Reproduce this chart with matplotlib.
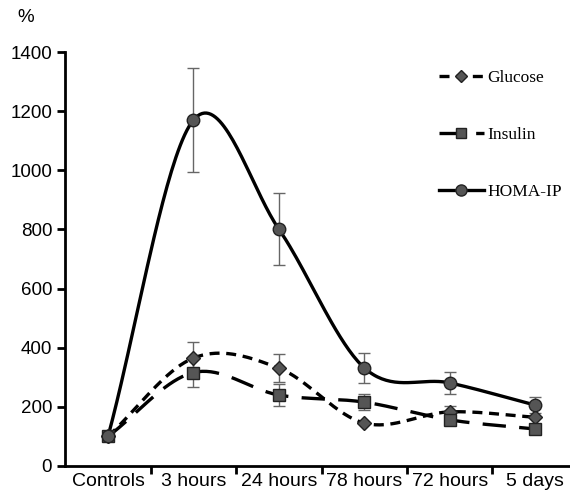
import numpy as np
import matplotlib.pyplot as plt
from matplotlib.lines import Line2D

# data
categories = ["Controls", "3 hours", "24 hours", "78 hours", "72 hours", "5 days"]
glucose = [100, 365, 331, 145, 183, 165]
glucose_err = [0, 55, 48, 0, 20, 0]
insulin = [100, 316, 240, 216, 156, 125]
insulin_err = [0, 49, 37, 27, 0, 0]
homa = [100, 1170, 801, 332, 281, 206]
homa_err = [0, 176, 121, 50, 37, 27]


def smooth(xs, ys, n=40):
    # catmull-rom spline through the points (Excel-like smoothed line)
    xs = np.asarray(xs, float)
    ys = np.asarray(ys, float)
    px = np.concatenate([[2 * xs[0] - xs[1]], xs, [2 * xs[-1] - xs[-2]]])
    py = np.concatenate([[2 * ys[0] - ys[1]], ys, [2 * ys[-1] - ys[-2]]])
    outx, outy = [], []
    t = np.linspace(0, 1, n)
    for i in range(1, len(px) - 2):
        for p, out in ((px, outx), (py, outy)):
            p0, p1, p2, p3 = p[i - 1], p[i], p[i + 1], p[i + 2]
            out.extend(0.5 * (2 * p1 + (-p0 + p2) * t
                              + (2 * p0 - 5 * p1 + 4 * p2 - p3) * t ** 2
                              + (-p0 + 3 * p1 - 3 * p2 + p3) * t ** 3))
    return np.array(outx), np.array(outy)


fig = plt.figure(figsize=(5.7, 4.93), dpi=100)
ax = fig.add_axes([0.1146, 0.0548, 0.899, 0.8397])

x = np.arange(len(categories))
series = [
    (glucose, glucose_err, (0, (3, 2)), "D", 7, "Glucose"),
    (insulin, insulin_err, (0, (7, 4)), "s", 8, "Insulin"),
    (homa, homa_err, "-", "o", 9, "HOMA-IP"),
]
handles = []
for vals, err, ls, mk, ms, lab in series:
    sx, sy = smooth(x, vals)
    ax.plot(sx, sy, color="black", lw=2.4, linestyle=ls, zorder=2)
    ax.errorbar(x, vals, yerr=err, fmt="none", ecolor="#666666", elinewidth=1,
                capsize=4, capthick=1, zorder=3)
    ax.plot(x, vals, linestyle="none", marker=mk, ms=ms, mfc="#555555",
            mec="#222222", mew=1, zorder=4)
    handles.append(Line2D([0], [0], color="black", lw=2.4, linestyle=ls,
                          marker=mk, ms=ms - 1, mfc="#555555", mec="#222222"))

ax.set_xlim(-0.5, 5.5)
ax.set_ylim(0, 1400)
ax.set_yticks(range(0, 1401, 200))
ax.set_xticks(x)
ax.set_xticklabels(categories, fontsize=14, family="Liberation Sans")
ax.set_xticks(x[:-1] + 0.5, minor=True)
ax.tick_params(axis="x", which="major", length=0, pad=5)
ax.tick_params(axis="x", which="minor", length=6, width=2, direction="out")
ax.tick_params(axis="y", length=6, width=2, direction="out", labelsize=13.5)
for t in ax.get_yticklabels():
    t.set_family("Liberation Sans")
ax.spines["top"].set_visible(False)
ax.spines["right"].set_visible(False)
ax.spines["left"].set_linewidth(2)
ax.spines["bottom"].set_linewidth(2)

fig.text(0.03, 0.955, "%", fontsize=13.5, family="Liberation Sans")

ax.legend(handles, ["Glucose", "Insulin", "HOMA-IP"], loc="upper right",
          bbox_to_anchor=(1.0, 0.995), frameon=False, labelspacing=2.35,
          handlelength=2.6, handletextpad=0.2,
          prop={"family": "Liberation Serif", "size": 12.5})

fig.savefig("out.png", dpi=100)
